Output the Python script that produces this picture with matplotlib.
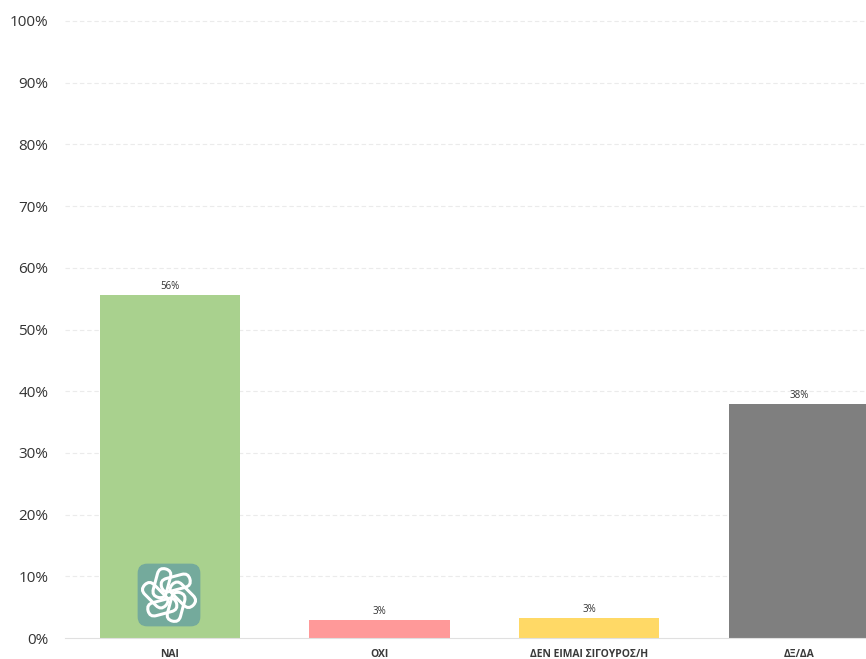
import numpy as np
import matplotlib.pyplot as plt
import matplotlib.patches as mpatches
import matplotlib.transforms as mtransforms

plt.rcParams['font.family'] = ['Open Sans', 'DejaVu Sans']

categories = ['ΝΑΙ', 'ΟΧΙ', 'ΔΕΝ ΕΙΜΑΙ ΣΙΓΟΥΡΟΣ/Η', 'ΔΞ/ΔΑ']
values = [55.6, 2.9, 3.2, 37.9]
colors = ['#a9d18e', '#ff9999', '#ffd966', '#7f7f7f']
yticks = list(range(0, 101, 10))

fig = plt.figure(figsize=(8.66, 6.59), dpi=100)
ax = fig.add_axes([65/866, 21/659, 1 - 65/866, 617/659])

x = np.arange(len(categories))
bars = ax.bar(x, values, width=0.668, color=colors, zorder=3)

for b, v in zip(bars, values):
    ax.text(b.get_x() + b.get_width()/2, v + 0.5, f'{v:.0f}%', ha='center', va='bottom',
            fontsize=7, color='#333333', zorder=4)

ax.set_xlim(-0.5, 3.32)
ax.set_ylim(0, 100)
ax.set_yticks(yticks)
ax.set_yticklabels([f'{t}%' for t in yticks], fontsize=11, color='#333333')
ax.set_xticks(x)
ax.set_xticklabels(categories, fontsize=7.5, fontweight='bold', color='#3a3a3a')
ax.tick_params(axis='both', length=0)
ax.tick_params(axis='y', pad=12)
ax.tick_params(axis='x', pad=8)

for t in yticks[1:]:
    ax.axhline(t, color='#ebebeb', lw=0.8, ls=(0, (4, 2.5)), zorder=1, clip_on=False)
for s in ['top', 'right', 'left']:
    ax.spines[s].set_visible(False)
ax.spines['bottom'].set_color('#e0e0e0')
ax.spines['bottom'].set_zorder(5)

# small logo badge inside the first bar
lax = fig.add_axes([137/866, 32/659, 64/866, 64/659])
lax.set_xlim(-1, 1)
lax.set_ylim(-1, 1)
lax.axis('off')
lax.add_patch(mpatches.FancyBboxPatch((-0.98, -0.98), 1.96, 1.96,
              boxstyle='round,pad=0,rounding_size=0.3', fc='#74aa9c', ec='none'))
for k in range(6):
    st = mpatches.FancyBboxPatch((-0.16, 0.1), 0.92, 0.42,
                                 boxstyle='round,pad=0,rounding_size=0.21',
                                 fc='none', ec='white', lw=2.2)
    st.set_transform(mtransforms.Affine2D().rotate_deg(60 * k + 15) + lax.transData)
    lax.add_patch(st)

fig.savefig('out.png', dpi=100)
